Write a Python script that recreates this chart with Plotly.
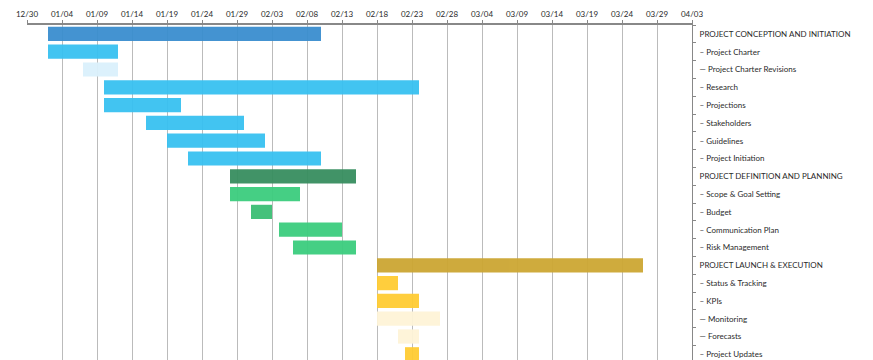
import plotly.graph_objects as go
import pandas as pd

tasks = [
    "PROJECT CONCEPTION AND INITIATION", "– Project Charter", "— Project Charter Revisions",
    "– Research", "– Projections", "– Stakeholders", "– Guidelines", "– Project Initiation",
    "PROJECT DEFINITION AND PLANNING", "– Scope & Goal Setting", "– Budget",
    "– Communication Plan", "– Risk Management",
    "PROJECT LAUNCH & EXECUTION", "– Status & Tracking", "– KPIs", "— Monitoring",
    "— Forecasts", "– Project Updates",
]
starts = [
    "2020-01-02", "2020-01-02", "2020-01-07", "2020-01-10", "2020-01-10", "2020-01-16",
    "2020-01-19", "2020-01-22",
    "2020-01-28", "2020-01-28", "2020-01-31", "2020-02-04", "2020-02-06",
    "2020-02-18", "2020-02-18", "2020-02-18", "2020-02-18", "2020-02-21", "2020-02-22",
]
ends = [
    "2020-02-10", "2020-01-12", "2020-01-12", "2020-02-24", "2020-01-21", "2020-01-30",
    "2020-02-02", "2020-02-10",
    "2020-02-15", "2020-02-07", "2020-02-03", "2020-02-13", "2020-02-15",
    "2020-03-27", "2020-02-21", "2020-02-24", "2020-02-27", "2020-02-24", "2020-02-24",
]
colors = [
    "#3A8ECF", "#38C1F1", "#DBF1FC", "#38C1F1", "#38C1F1", "#38C1F1", "#38C1F1", "#38C1F1",
    "#378E5F", "#3CCD7E", "#3CBE74", "#3CCD7E", "#3CCD7E",
    "#CCA633", "#FFCC33", "#FFCC33", "#FEF4D8", "#FEF4D8", "#FFCC33",
]

s = pd.to_datetime(starts)
e = pd.to_datetime(ends)
dur_ms = [(b - a).total_seconds() * 1000 for a, b in zip(s, e)]
ypos = list(range(len(tasks)))

font = "Lato, 'Open Sans', sans-serif"

fig = go.Figure(go.Bar(
    y=ypos, x=dur_ms, base=[d.strftime("%Y-%m-%d") for d in s], orientation="h",
    marker=dict(color=colors, line=dict(width=0)), opacity=0.95, width=0.8,
    hoverinfo="skip",
))

fig.update_layout(
    width=873, height=360,
    margin=dict(l=27, r=181, t=25, b=0, autoexpand=False),
    plot_bgcolor="white", paper_bgcolor="white",
    showlegend=False,
    font=dict(family=font, size=8, color="#2a2a2a"),
    xaxis=dict(
        type="date", side="top", automargin=False,
        range=["2019-12-30", "2020-04-03"],
        tick0="2019-12-30", dtick=5 * 86400000, tickformat="%m/%d",
        showgrid=True, gridcolor="#BBBBBB", gridwidth=1,
        showline=True, linecolor="#888888", linewidth=1.5,
        ticks="outside", ticklen=3, tickcolor="#888888",
        tickfont=dict(size=8, color="#2a2a2a"), zeroline=False,
    ),
    yaxis=dict(
        side="right", range=[18.32, -0.5], automargin=False,
        tickmode="array", tickvals=ypos, ticktext=tasks, ticks="",
        showgrid=False, zeroline=False,
        showline=True, linecolor="#888888", linewidth=1,
        minor=dict(tickmode="array", tickvals=[i - 0.5 for i in range(len(tasks) + 1)],
                   ticks="outside", ticklen=3, tickcolor="#888888", showgrid=False),
        tickfont=dict(size=8, color="#2a2a2a"), ticklabelstandoff=5,
    ),
)

fig.write_html(
    "out.html",
    config={"displayModeBar": False},
    post_script="document.body.style.margin='0';document.body.style.overflow='hidden';",
)
